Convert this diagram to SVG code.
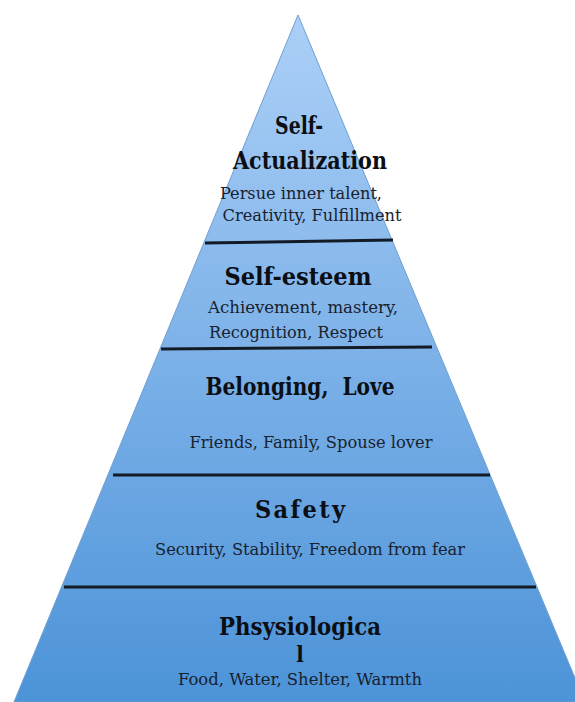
<svg xmlns="http://www.w3.org/2000/svg" width="575" height="702" viewBox="0 0 575 702">
  <defs>
    <linearGradient id="fill" x1="0" y1="15" x2="0" y2="702" gradientUnits="userSpaceOnUse">
      <stop offset="0" stop-color="#acd0f7"/>
      <stop offset="0.5" stop-color="#7cb1e8"/>
      <stop offset="1" stop-color="#4c93d8"/>
    </linearGradient>
  </defs>
  <style>
    .title { font-family: "DejaVu Serif", "Liberation Serif", serif; font-stretch: condensed; font-weight: bold; font-size: 25px; fill: #0b0f14; }
    .sub { font-family: "DejaVu Serif", "Liberation Serif", serif; font-stretch: condensed; font-size: 17.5px; fill: #18222e; }
    .div { stroke: #131c26; stroke-width: 3; fill: none; }
  </style>
  <polygon points="298,15 585,702 14,702" fill="url(#fill)" stroke="#6f9fd2" stroke-width="1"/>
  <g id="dividers">
    <line class="div" x1="205" y1="243" x2="393" y2="240"/>
    <line class="div" x1="161" y1="349" x2="432" y2="347"/>
    <line class="div" x1="113" y1="475" x2="490" y2="475"/>
    <line class="div" x1="64" y1="587" x2="536" y2="587"/>
  </g>
  <g id="self-actualization">
    <text class="title" x="299" y="134" text-anchor="middle" textLength="48" lengthAdjust="spacingAndGlyphs">Self-</text>
    <text class="title" x="310" y="169" text-anchor="middle" textLength="154" lengthAdjust="spacingAndGlyphs">Actualization</text>
    <text class="sub" x="301" y="199" text-anchor="middle" textLength="162" lengthAdjust="spacingAndGlyphs">Persue inner talent,</text>
    <text class="sub" x="312" y="221" text-anchor="middle" textLength="179" lengthAdjust="spacingAndGlyphs">Creativity, Fulfillment</text>
  </g>
  <g id="self-esteem">
    <text class="title" x="298" y="285" text-anchor="middle" textLength="147" lengthAdjust="spacingAndGlyphs">Self-esteem</text>
    <text class="sub" x="303" y="313" text-anchor="middle" textLength="190" lengthAdjust="spacingAndGlyphs">Achievement, mastery,</text>
    <text class="sub" x="296" y="338" text-anchor="middle" textLength="174" lengthAdjust="spacingAndGlyphs">Recognition, Respect</text>
  </g>
  <g id="belonging">
    <text class="title" x="300" y="395" text-anchor="middle" textLength="189" lengthAdjust="spacingAndGlyphs" xml:space="preserve">Belonging,  Love</text>
    <text class="sub" x="311" y="448" text-anchor="middle" textLength="243" lengthAdjust="spacingAndGlyphs">Friends, Family, Spouse lover</text>
  </g>
  <g id="safety">
    <text class="title" x="300" y="518" text-anchor="middle" textLength="90" lengthAdjust="spacing">Safety</text>
    <text class="sub" x="310" y="555" text-anchor="middle" textLength="310" lengthAdjust="spacingAndGlyphs">Security, Stability, Freedom from fear</text>
  </g>
  <g id="physiological">
    <text class="title" x="300" y="635" text-anchor="middle" textLength="162" lengthAdjust="spacingAndGlyphs">Phsysiologica</text>
    <text class="title" x="300" y="662" text-anchor="middle" style="font-size:22px">l</text>
    <text class="sub" x="300" y="685" text-anchor="middle" textLength="244" lengthAdjust="spacingAndGlyphs">Food, Water, Shelter, Warmth</text>
  </g>
</svg>
